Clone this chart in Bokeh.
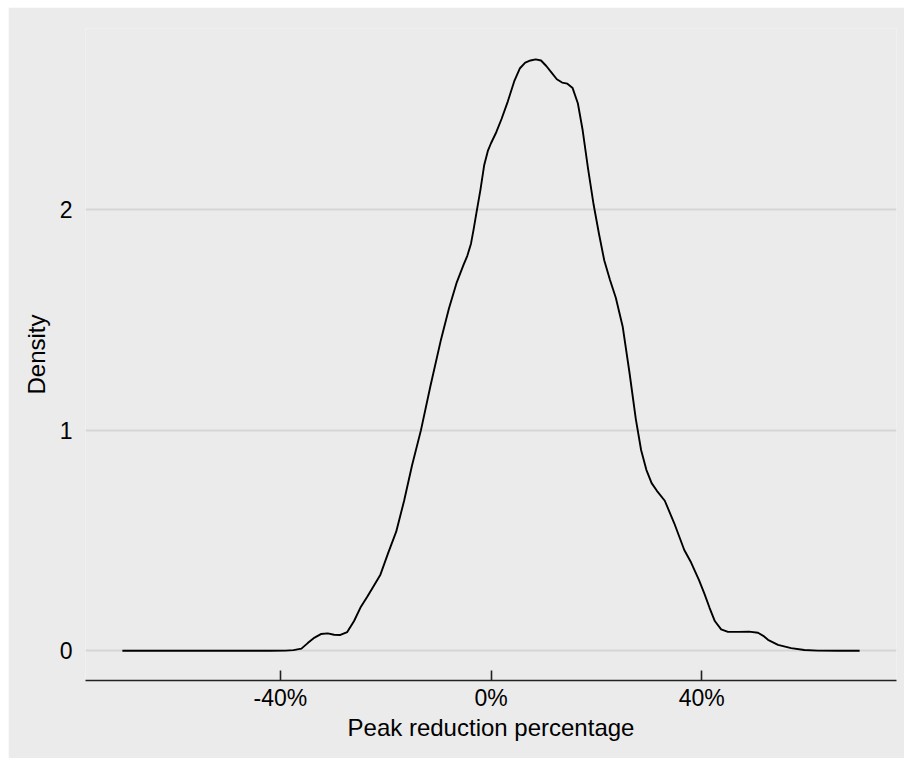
from bokeh.plotting import figure
from bokeh.models import Range1d, FixedTicker
from bokeh.embed import file_html
from bokeh.resources import INLINE

# Density curve of peak reduction percentage
x_pct = [-70, -60, -50, -42, -39, -37.5, -36, -34.8, -33.5, -32.3, -31, -29.8,
         -28.6, -27.3, -26, -24.7, -23.5, -22.5, -21, -19.5, -18, -16.5, -15,
         -13.3, -11.5, -9.5, -8, -6.5, -5.2, -4.5, -3.8, -3.3, -2.8, -2, -1.3,
         -0.6, 0, 1, 2, 3.2, 4.4, 5.5, 6.5, 7.5, 8.5, 9.5, 10.5, 11.5, 12.5,
         13.5, 14.5, 15.5, 16.5, 17.4, 18.4, 19.5, 20.5, 21.5, 22.6, 23.7, 25,
         26.3, 27.5, 28.5, 29.5, 30.5, 31.5, 33, 34.8, 36.7, 38, 39.5, 40.5,
         41.5, 42.5, 43.7, 45, 47, 49, 50.7, 51.7, 52.6, 54.5, 57, 59.5, 62,
         66, 70]
density = [0, 0, 0, 0.0005, 0.001, 0.003, 0.01, 0.035, 0.06, 0.076, 0.079, 0.073,
           0.072, 0.085, 0.135, 0.2, 0.245, 0.285, 0.345, 0.445, 0.54, 0.68, 0.84,
           1.0, 1.2, 1.41, 1.55, 1.67, 1.75, 1.79, 1.845, 1.91, 1.98, 2.09, 2.20,
           2.265, 2.30, 2.35, 2.41, 2.49, 2.58, 2.64, 2.665, 2.675, 2.68, 2.675,
           2.65, 2.62, 2.59, 2.575, 2.57, 2.55, 2.48, 2.36, 2.19, 2.02, 1.89,
           1.77, 1.68, 1.60, 1.47, 1.26, 1.05, 0.91, 0.82, 0.76, 0.725, 0.68,
           0.578, 0.457, 0.40, 0.32, 0.26, 0.195, 0.135, 0.097, 0.086, 0.086,
           0.087, 0.082, 0.068, 0.05, 0.027, 0.012, 0.004, 0.001, 0, 0]

x_ticks = [-40, 0, 40]
x_tick_labels = ["-40%", "0%", "40%"]
y_ticks = [0, 1, 2]
y_tick_labels = ["0", "1", "2"]

BG = "#ebebeb"
FONT = "Liberation Sans"

p = figure(width=896, height=751, output_backend="svg", toolbar_location=None,
           x_range=Range1d(-77, 77), y_range=Range1d(-0.1345, 2.82),
           min_border_left=77, min_border_right=8, min_border_top=21,
           min_border_bottom=78, background_fill_color=BG,
           border_fill_color=BG, outline_line_color=None,
           margin=(7, 0, 0, 8))

p.line(x_pct, density, line_color="black", line_width=1.9, line_join="round")

# grid
p.xgrid.grid_line_color = None
p.ygrid.ticker = FixedTicker(ticks=y_ticks)
p.ygrid.grid_line_color = "#d6d6d6"
p.ygrid.grid_line_width = 2

# x axis
xa = p.xaxis[0]
xa.ticker = FixedTicker(ticks=x_ticks)
xa.major_label_overrides = dict(zip(x_ticks, x_tick_labels))
xa.axis_line_color = "#222222"
xa.axis_line_width = 1.6
xa.major_tick_line_color = "#222222"
xa.major_tick_line_width = 1.6
xa.major_tick_in = 10
xa.major_tick_out = 0
xa.minor_tick_line_color = None
xa.major_label_standoff = 4
xa.major_label_text_font = FONT
xa.major_label_text_font_size = "23px"
xa.major_label_text_color = "black"
xa.axis_label = "Peak reduction percentage"
xa.axis_label_text_font = FONT
xa.axis_label_text_font_size = "24px"
xa.axis_label_text_font_style = "normal"
xa.axis_label_text_color = "black"
xa.axis_label_standoff = 0

# y axis
ya = p.yaxis[0]
ya.ticker = FixedTicker(ticks=y_ticks)
ya.major_label_overrides = dict(zip(y_ticks, y_tick_labels))
ya.axis_line_color = None
ya.major_tick_line_color = None
ya.minor_tick_line_color = None
ya.major_label_standoff = 7
ya.major_label_text_font = FONT
ya.major_label_text_font_size = "23px"
ya.major_label_text_color = "black"
ya.axis_label = "Density"
ya.axis_label_text_font = FONT
ya.axis_label_text_font_size = "24px"
ya.axis_label_text_font_style = "normal"
ya.axis_label_text_color = "black"
ya.axis_label_standoff = 7

open("out.html", "w").write(file_html(p, INLINE))
